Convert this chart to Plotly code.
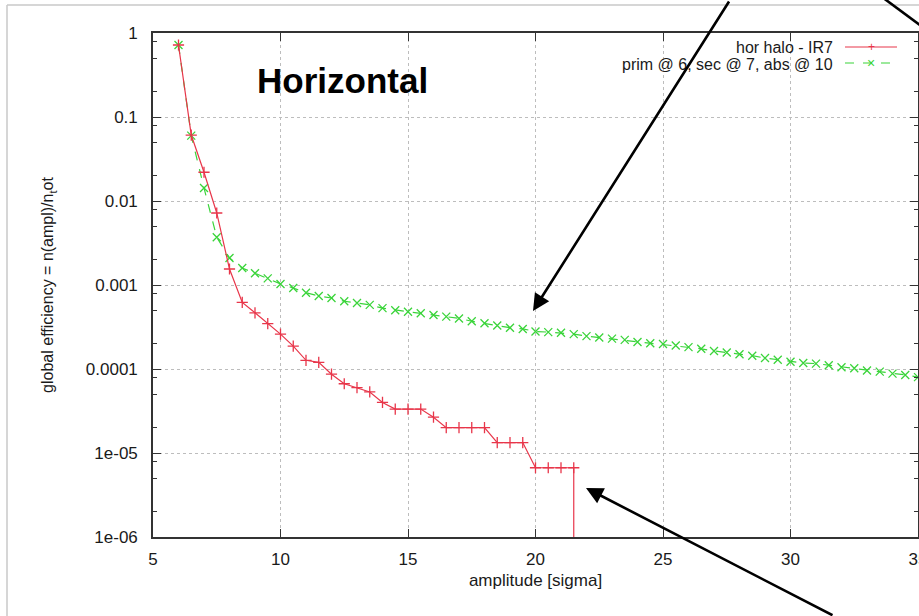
import plotly.graph_objects as go

# ---------------- data ----------------
red_x = [6, 6.5, 7, 7.5, 8, 8.5, 9, 9.5, 10, 10.5, 11, 11.5, 12, 12.5, 13, 13.5,
         14, 14.5, 15, 15.5, 16, 16.5, 17, 17.5, 18, 18.5, 19, 19.5, 20, 20.5, 21, 21.5]
red_y = [0.72, 0.061, 0.022, 0.0072, 0.00155, 0.00062, 0.000467, 0.000347, 0.00026,
         0.000187, 0.000127, 0.00012, 8.67e-5, 6.67e-5, 6e-5, 5.33e-5, 4e-5, 3.33e-5,
         3.33e-5, 3.33e-5, 2.67e-5, 2e-5, 2e-5, 2e-5, 2e-5, 1.33e-5, 1.33e-5, 1.33e-5,
         6.67e-6, 6.67e-6, 6.67e-6, 6.67e-6]
# last bin drops to zero (drawn down to the bottom of the log axis)
red_drop_x = [21.5, 21.5]
red_drop_y = [6.67e-6, 1e-9]

green_x = [6, 6.5, 7, 7.5, 8, 8.5, 9, 9.5, 10, 10.5, 11, 11.5, 12, 12.5, 13, 13.5,
           14, 14.5, 15, 15.5, 16, 16.5, 17, 17.5, 18, 18.5, 19, 19.5, 20, 20.5, 21,
           21.5, 22, 22.5, 23, 23.5, 24, 24.5, 25, 25.5, 26, 26.5, 27, 27.5, 28, 28.5,
           29, 29.5, 30, 30.5, 31, 31.5, 32, 32.5, 33, 33.5, 34, 34.5, 35]
green_y = [0.72, 0.06, 0.0143, 0.0037, 0.0021, 0.00159, 0.00138, 0.0012, 0.00103,
           0.00092, 0.00081, 0.00074, 0.0007, 0.00064, 0.00061, 0.00058, 0.00053,
           0.0005, 0.00048, 0.00046, 0.00044, 0.00042, 0.0004, 0.00037, 0.00035,
           0.00033, 0.00031, 0.0003, 0.00028, 0.000275, 0.00027, 0.00026, 0.000246,
           0.000237, 0.00023, 0.000222, 0.00021, 0.000203, 0.000198, 0.00019,
           0.000182, 0.000174, 0.000164, 0.000157, 0.00015, 0.000144, 0.000135,
           0.000129, 0.000122, 0.000118, 0.000116, 0.000111, 0.000105, 0.000102,
           9.6e-5, 9.3e-5, 8.8e-5, 8.5e-5, 8e-5]

red_name = "hor halo - IR7"
green_name = "prim @ 6, sec @ 7, abs @ 10"

y_tickvals = [1e-6, 1e-5, 1e-4, 1e-3, 1e-2, 1e-1, 1]
y_ticktext = ["1e-06", "1e-05", "0.0001", "0.001", "0.01", "0.1", "1"]
y_minor = [m * 10 ** e for e in range(-6, 0) for m in (2, 5, 8)]
x_tickvals = [5, 10, 15, 20, 25, 30, 35]

RED = "#e8364a"
GREEN = "#3ad43a"
FONT = "Liberation Sans, Arial, sans-serif"
TXT = "#1a1a1a"

# ---------------- figure ----------------
fig = go.Figure()
fig.add_trace(go.Scatter(x=red_drop_x, y=red_drop_y, mode="lines",
                         line=dict(color=RED, width=1.2), showlegend=False,
                         hoverinfo="skip"))
fig.add_trace(go.Scatter(x=green_x, y=green_y, mode="lines+markers", name=green_name,
                         line=dict(color=GREEN, width=1.2, dash="dash"),
                         marker=dict(symbol="x-thin-open", size=8,
                                     line=dict(color=GREEN, width=1.3))))
fig.add_trace(go.Scatter(x=red_x, y=red_y, mode="lines+markers", name=red_name,
                         line=dict(color=RED, width=1.2),
                         marker=dict(symbol="cross-thin-open", size=8,
                                     line=dict(color=RED, width=1.3))))

W, H = 919, 616
L, R, T, B = 153, 1, 33, 79
pw, ph = W - L - R, H - T - B


def px(xp):
    return (xp - L) / pw


def py(yp):
    return (H - B - yp) / ph


axis_common = dict(showline=True, linecolor="#333333", linewidth=1.6, mirror="ticks",
                   ticks="inside", ticklen=8, tickcolor="#333333", tickwidth=1.2,
                   showgrid=True, gridcolor="#bdbdbd", griddash="dot", gridwidth=1,
                   zeroline=False, ticklabeloverflow="allow",
                   tickfont=dict(family=FONT, size=17, color=TXT))

fig.update_xaxes(range=[5, 35], tickvals=x_tickvals, ticklabelstandoff=6,
                 title=dict(text="amplitude [sigma]", font=dict(family=FONT, size=17, color=TXT),
                            standoff=6),
                 **axis_common)
fig.update_yaxes(type="log", range=[-6, 0], tickvals=y_tickvals, ticktext=y_ticktext,
                 ticklabelstandoff=10,
                 minor=dict(tickvals=y_minor, ticks="inside", ticklen=4,
                            tickcolor="#333333", showgrid=False),
                 title=dict(text="global efficiency = n(ampl)/n<sub>t</sub>ot",
                            font=dict(family=FONT, size=16, color=TXT), standoff=28),
                 **axis_common)

shapes = [
    # slide frame
    dict(type="line", xref="paper", yref="paper", x0=px(7), x1=px(W + 5), y0=py(5), y1=py(5),
         line=dict(color="#c8c8c8", width=1.5)),
    dict(type="line", xref="paper", yref="paper", x0=px(7), x1=px(7), y0=py(5), y1=py(H + 5),
         line=dict(color="#c8c8c8", width=1.5)),
    # legend sample lines
    dict(type="line", xref="paper", yref="paper", x0=px(845), x1=px(897), y0=py(47), y1=py(47),
         line=dict(color=RED, width=1.2)),
    dict(type="line", xref="paper", yref="paper", x0=px(845), x1=px(897), y0=py(63), y1=py(63),
         line=dict(color=GREEN, width=1.2, dash="dash")),
    # shaft of a third slide arrow leaving the picture at the top right
    dict(type="line", xref="paper", yref="paper", x0=px(882), x1=px(940), y0=py(-3), y1=py(40),
         line=dict(color="#000000", width=2.6)),
]

annotations = [
    dict(text="<b>Horizontal</b>", xref="paper", yref="paper", x=px(255), y=py(80),
         xanchor="left", yanchor="middle", showarrow=False,
         font=dict(family=FONT, size=35, color="#000000")),
    dict(text=red_name, xref="paper", yref="paper", x=px(834), y=py(47),
         xanchor="right", yanchor="middle", showarrow=False, borderpad=0,
         font=dict(family=FONT, size=16, color=TXT)),
    dict(text=green_name, xref="paper", yref="paper", x=px(834), y=py(64),
         xanchor="right", yanchor="middle", showarrow=False, borderpad=0,
         font=dict(family=FONT, size=16, color=TXT)),
    # legend sample markers
    dict(text="+", xref="paper", yref="paper", x=px(871), y=py(47), xanchor="center",
         yanchor="middle", showarrow=False, borderpad=0,
         font=dict(family=FONT, size=12, color=RED)),
    dict(text="×", xref="paper", yref="paper", x=px(871), y=py(63), xanchor="center",
         yanchor="middle", showarrow=False, borderpad=0,
         font=dict(family=FONT, size=14, color=GREEN)),
    # slide arrows
    dict(text="", xref="paper", yref="paper", x=px(533), y=py(311), ax=197, ay=-318,
         showarrow=True, arrowhead=2, arrowsize=1.3, arrowwidth=2.6, arrowcolor="#000000",
         standoff=0),
    dict(text="", xref="paper", yref="paper", x=px(586), y=py(488), ax=248, ay=132,
         showarrow=True, arrowhead=2, arrowsize=1.3, arrowwidth=2.6, arrowcolor="#000000",
         standoff=0),
]

fig.update_layout(width=W, height=H, margin=dict(l=L, r=R, t=T, b=B, autoexpand=False),
                  paper_bgcolor="white", plot_bgcolor="white", showlegend=False,
                  shapes=shapes, annotations=annotations,
                  font=dict(family=FONT, color=TXT))

fig.write_html("out.html")
